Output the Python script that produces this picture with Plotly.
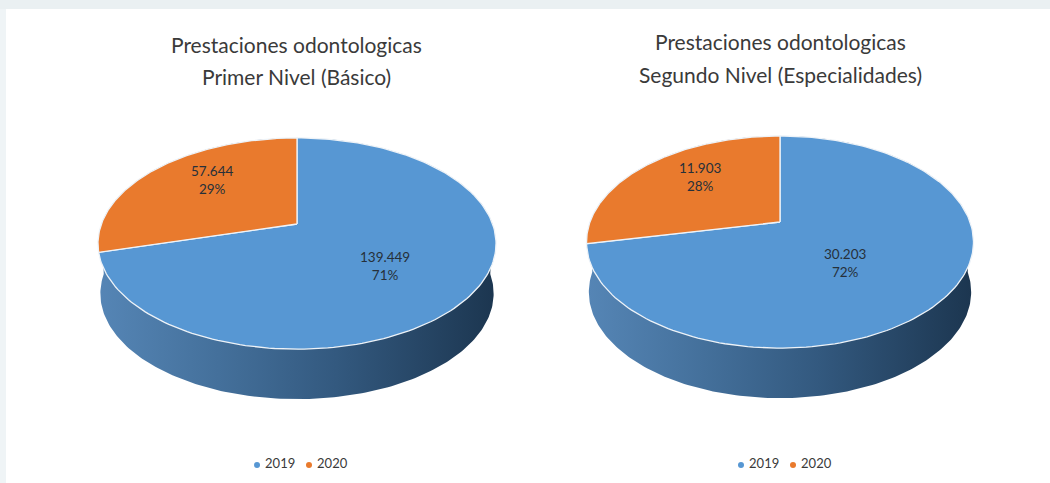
import numpy as np
import plotly.graph_objects as go

# ---- data ----
years = ["2019", "2020"]
basic_values = [139449, 57644]
special_values = [30203, 11903]
basic_title = ["Prestaciones odontologicas", "Primer Nivel (Básico)"]
special_title = ["Prestaciones odontologicas", "Segundo Nivel (Especialidades)"]

# ---- styling / layout constants (pixel-valued axes) ----
W, H = 1050, 483
BLUE, ORANGE = "#5797D3", "#E97A2D"
TEXT = "#3A3A3A"
FONT = "Lato"
SIDE_SCALE = [[0, "#5585B5"], [0.3, "#44709B"], [0.6, "#33597F"], [1, "#1C3650"]]


def project(view, u, v, plane=0.0):
    """Perspective map of the unit disc (u right, v away) to the page."""
    w = 1 + view["k"] * v
    s = 1 - 0.012 * plane
    return view["cx"] + s * view["a"] * u / w, view["cy"] + plane * view["depth"] - view["b"] * v / w


def arc(view, start, end, plane=0.0):
    t = np.radians(np.linspace(start, end, 181))
    return project(view, np.sin(t), np.cos(t), plane)


def add_pie(fig, view, values, title, label_xy, legend_y):
    total = sum(values)
    # side wall: far half of the top rim, then near half of the bottom rim
    x_top, y_top = arc(view, -90, 90)
    x_bot, y_bot = arc(view, 90, 270, plane=1.0)
    fig.add_trace(go.Scatter(
        x=np.r_[x_top, x_bot], y=np.r_[y_top, y_bot], mode="lines", fill="toself",
        line=dict(width=0), fillgradient=dict(type="horizontal", colorscale=SIDE_SCALE),
        hoverinfo="skip", showlegend=False))
    # top face slices: clockwise from twelve o'clock
    angle = 0.0
    for name, val, col in zip(years, values, [BLUE, ORANGE]):
        sweep = 360.0 * val / total
        xa, ya = arc(view, angle, angle + sweep)
        xc, yc = project(view, 0.0, 0.0)
        fig.add_trace(go.Scatter(
            x=np.r_[xc, xa, xc], y=np.r_[yc, ya, yc], mode="lines", fill="toself",
            fillcolor=col, line=dict(color="#EEF3F8", width=1.3), name=name,
            hoverinfo="name", showlegend=False))
        angle += sweep
    # labels
    for val, (lx, ly) in zip(values, label_xy):
        fig.add_annotation(
            x=lx, y=ly, xref="x", yref="y", showarrow=False, align="center",
            text=f"{val:,}".replace(",", ".") + f"<br>{round(100 * val / total)}%",
            font=dict(family=FONT, size=13.5, color="#26303A"))
    # title, one annotation per line for the wide line spacing
    for line, ty in zip(title, view["title_y"]):
        fig.add_annotation(
            x=view["title_x"], y=ty, xref="x", yref="y", showarrow=False,
            text=line, font=dict(family=FONT, size=21, color=TEXT))
    # legend
    for name, col, mx in zip(years, [BLUE, ORANGE], view["legend_x"]):
        fig.add_trace(go.Scatter(
            x=[mx], y=[legend_y], mode="markers+text", text=["\u00a0" + name],
            textposition="middle right",
            marker=dict(color=col, size=6), textfont=dict(family=FONT, size=13, color=TEXT),
            hoverinfo="skip", showlegend=False))


left_view = dict(cx=297, cy=224, a=195.6, b=102, k=0.185, depth=50,
                 title_x=296, title_y=[44, 76], legend_x=[257, 309])
right_view = dict(cx=780, cy=222, a=190, b=102.3, k=0.189, depth=50,
                  title_x=780, title_y=[41, 74], legend_x=[741, 793])

fig = go.Figure()
add_pie(fig, left_view, basic_values, basic_title, [(385, 266), (212, 180)], 465)
add_pie(fig, right_view, special_values, special_title, [(845, 263), (700, 177)], 465)

fig.update_layout(
    width=W, height=H, margin=dict(l=0, r=0, t=0, b=0),
    paper_bgcolor="#EFF4F6", plot_bgcolor="#FFFFFF", showlegend=False,
    xaxis=dict(range=[0, W], visible=False, fixedrange=True),
    yaxis=dict(range=[H, 0], visible=False, fixedrange=True),
    shapes=[dict(type="rect", xref="x", yref="y", x0=6, x1=W, y0=9, y1=H,
                 fillcolor="#FFFFFF", line=dict(width=0), layer="below"),
            dict(type="rect", xref="x", yref="y", x0=0, x1=W, y0=0, y1=9,
                 fillcolor="#EAF0F2", line=dict(width=0), layer="below"),
            dict(type="rect", xref="x", yref="y", x0=0, x1=6, y0=9, y1=483,
                 fillcolor="#EFF4F6", line=dict(width=0), layer="below")],
)
fig.write_html("out.html", config=dict(displayModeBar=False),
               post_script="document.body.style.margin='0';document.body.style.overflow='hidden';")
